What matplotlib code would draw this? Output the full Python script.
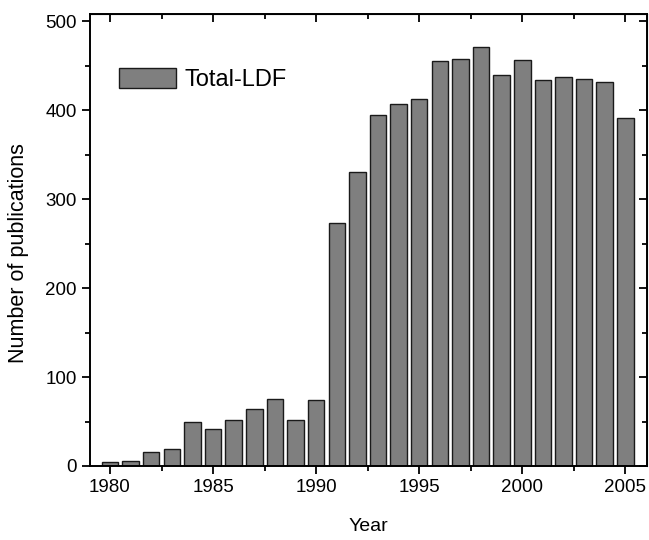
import matplotlib
matplotlib.use("Agg")
from matplotlib import pyplot as plt
from matplotlib.ticker import MultipleLocator

plt.rcParams['font.family'] = ['Liberation Sans', 'DejaVu Sans']

# publications per year
years = [1980, 1981, 1982, 1983, 1984, 1985, 1986, 1987, 1988, 1989,
         1990, 1991, 1992, 1993, 1994, 1995, 1996, 1997, 1998, 1999,
         2000, 2001, 2002, 2003, 2004, 2005]
counts = [5, 6, 16, 19, 49, 42, 52, 64, 75, 52,
          74, 273, 330, 394, 407, 412, 455, 457, 471, 440,
          456, 434, 437, 435, 432, 391]
series_name = "Total-LDF"

fig = plt.figure(figsize=(6.49, 5.40), dpi=100)
ax = fig.add_axes([90/649, 1-466/540, 557/649, 452/540])

ax.bar(years, counts, width=0.8, color='#7f7f7f', edgecolor='#1a1a1a',
       linewidth=1.0, label=series_name)

ax.set_xlim(1979.03, 2006.05)
ax.set_ylim(0, 508)
ax.xaxis.set_major_locator(MultipleLocator(5))
ax.xaxis.set_minor_locator(MultipleLocator(2.5))
ax.yaxis.set_major_locator(MultipleLocator(100))
ax.yaxis.set_minor_locator(MultipleLocator(50))

for s in ax.spines.values():
    s.set_linewidth(1.4)

ax.tick_params(which='both', direction='out', width=1.3, labelsize=13.5,
               top=False, right=False)
ax.tick_params(which='major', length=6)
ax.tick_params(which='minor', length=3.5)

# mirrored inward ticks on top and right
axt = ax.secondary_xaxis('top')
axt.xaxis.set_major_locator(MultipleLocator(5))
axt.xaxis.set_minor_locator(MultipleLocator(2.5))
axt.tick_params(which='both', direction='in', width=1.3, labeltop=False)
axt.tick_params(which='major', length=6)
axt.tick_params(which='minor', length=3.5)
axr = ax.secondary_yaxis('right')
axr.yaxis.set_major_locator(MultipleLocator(100))
axr.yaxis.set_minor_locator(MultipleLocator(50))
axr.tick_params(which='both', direction='in', width=1.3, labelright=False)
axr.tick_params(which='major', length=6)
axr.tick_params(which='minor', length=3.5)

ax.set_xlabel("Year", fontsize=14, labelpad=16)
ax.set_ylabel("Number of publications", fontsize=15.5)
ax.yaxis.set_label_coords(-0.110, 0.471)

ax.legend(loc='upper left', bbox_to_anchor=(0.052, 0.881), frameon=False,
          fontsize=17, handlelength=2.42, handleheight=0.93,
          handletextpad=0.34, borderpad=0, borderaxespad=0)

fig.savefig("out.png", dpi=100)
